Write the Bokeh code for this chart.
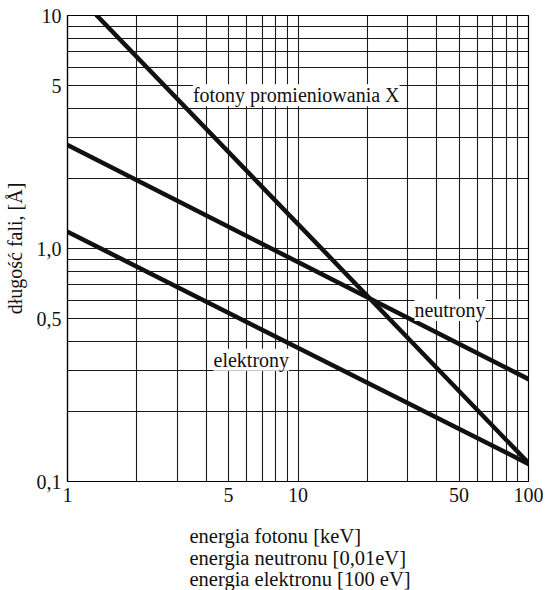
from bokeh.plotting import figure
from bokeh.models import FixedTicker, Label, Title, Range1d
from bokeh.embed import file_html
from bokeh.resources import INLINE

# Data (endpoints of straight lines on log-log axes)
fotony_E = [1.34, 100]
fotony_L = [10.0, 0.12]
neutrony_E = [1, 100]
neutrony_L = [2.78, 0.275]
elektrony_E = [1, 100]
elektrony_L = [1.18, 0.119]

x_ticks = [1, 5, 10, 50, 100]
x_tick_labels = ["1", "5", "10", "50", "100"]
y_ticks = [0.1, 0.5, 1.0, 5, 10]
y_tick_labels = ["0,1", "0,5", "1,0", "5", "10"]
x_grid = [1, 2, 3, 4, 5, 6, 7, 8, 9, 10, 20, 30, 40, 50, 60, 70, 80, 90, 100]
y_grid = [0.1, 0.2, 0.3, 0.4, 0.5, 0.6, 0.7, 0.8, 0.9, 1, 2, 3, 4, 5, 6, 7, 8, 9, 10]
x_title_lines = ["energia fotonu [keV]", "energia neutronu [0,01eV]", "energia elektronu [100 eV]"]

FONT = "Liberation Serif"

p = figure(width=543, height=590, x_axis_type="log", y_axis_type="log",
           x_range=Range1d(1, 100), y_range=Range1d(0.1, 10),
           output_backend="svg", toolbar_location=None,
           min_border_left=60, min_border_right=15, min_border_top=15, min_border_bottom=108)
p.background_fill_color = "white"
p.border_fill_color = "white"
p.outline_line_color = "black"
p.outline_line_width = 1.2

for ax in (p.xaxis, p.yaxis):
    ax.major_tick_line_color = None
    ax.minor_tick_line_color = None
    ax.axis_line_color = "black"
    ax.axis_line_width = 1.2
    ax.major_label_text_font = FONT
    ax.major_label_text_font_size = "20px"
    ax.major_label_text_color = "#111111"

p.xaxis.ticker = FixedTicker(ticks=x_ticks, minor_ticks=[])
p.yaxis.ticker = FixedTicker(ticks=y_ticks, minor_ticks=[])
p.xaxis.major_label_overrides = dict(zip(x_ticks, x_tick_labels))
p.yaxis.major_label_overrides = dict(zip(y_ticks, y_tick_labels))
p.xaxis.major_label_standoff = 0
p.yaxis.major_label_standoff = 0

# tiny spacer between the tick labels and the three-line axis title
p.xaxis.axis_label = " "
p.xaxis.axis_label_text_font_size = "1px"
p.xaxis.axis_label_standoff = 15

p.yaxis.axis_label = "długość fali, [Å]"
p.yaxis.axis_label_text_font = FONT
p.yaxis.axis_label_text_font_size = "20px"
p.yaxis.axis_label_text_font_style = "normal"
p.yaxis.axis_label_text_color = "#111111"
p.yaxis.axis_label_standoff = 8

p.xgrid.ticker = FixedTicker(ticks=x_grid, minor_ticks=[])
p.ygrid.ticker = FixedTicker(ticks=y_grid, minor_ticks=[])
for g in (p.xgrid, p.ygrid):
    g.grid_line_color = "#1a1a1a"
    g.grid_line_width = 1.1
    g.grid_line_alpha = 1.0

for E, L in ((fotony_E, fotony_L), (neutrony_E, neutrony_L), (elektrony_E, elektrony_L)):
    p.line(E, L, line_color="#111111", line_width=4.5, line_cap="round")

def add_label(x, y, text):
    p.add_layout(Label(x=x, y=y, text=text, text_font=FONT, text_font_size="20px",
                       text_color="#111111", text_baseline="middle", text_align="left",
                       background_fill_color="white", background_fill_alpha=1.0))

add_label(3.5, 4.55, "fotony promieniowania X")
add_label(32.0, 0.545, "neutrony")
add_label(4.3, 0.333, "elektrony")

p.add_layout(Title(text="\n".join(x_title_lines), align="left", offset=122, text_font=FONT,
                   text_font_size="20.5px", text_font_style="normal", text_line_height=0.98,
                   text_color="#111111", standoff=0), "below")

open("out.html", "w").write(file_html(p, INLINE))
